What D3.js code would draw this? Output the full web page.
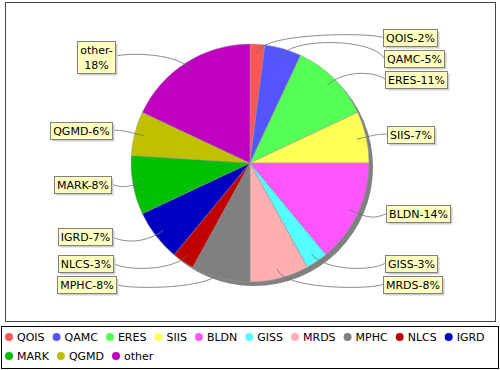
<!DOCTYPE html>
<html><head><meta charset="utf-8">
<script src="https://cdn.jsdelivr.net/npm/d3@7/dist/d3.min.js"></script>
<style>
body{margin:0;background:#fff}
svg{display:block}
text{font-family:"DejaVu Sans",sans-serif;font-size:11px;fill:#000}
</style>
</head><body>
<svg id="chart" width="500" height="370"></svg>
<script>
// ---- data ----
const categories = ["QOIS","QAMC","ERES","SIIS","BLDN","GISS","MRDS","MPHC","NLCS","IGRD","MARK","QGMD","other"];
const values     = [2, 5, 11, 7, 14, 3, 8, 8, 3, 7, 8, 6, 18];
const colors     = ["#FF5555","#5555FF","#55FF55","#FFFF55","#FF55FF","#55FFFF","#FFAFAF","#808080","#C00000","#0000C0","#00C000","#C0C000","#C000C0"];

// ---- layout ----
const cx = 250, cy = 163, r = 119;
const svg = d3.select("#chart");

// plot border
svg.append("rect").attr("x",5.5).attr("y",2.5).attr("width",490).attr("height",319)
  .attr("fill","#fff").attr("stroke","#444").attr("stroke-width",1);

const total = d3.sum(values);
const data = categories.map((c,i)=>({name:c, value:values[i], color:colors[i]}));
const pie = d3.pie().sort(null).value(d=>d.value).startAngle(0).endAngle(2*Math.PI);
const arcs = pie(data);
const arc = d3.arc().innerRadius(0).outerRadius(r);
const pt = (a, rad) => [cx + rad*Math.sin(a), cy - rad*Math.cos(a)];

// shadow
svg.append("circle").attr("cx",cx+4).attr("cy",cy+4).attr("r",r).attr("fill","#808080");

const g = svg.append("g").attr("transform",`translate(${cx},${cy})`);
g.selectAll("path.slice").data(arcs).join("path")
  .attr("class","slice")
  .attr("d",arc)
  .attr("fill",d=>d.data.color)
  .attr("stroke","#999").attr("stroke-width",0.5);

// ---- labels ----
const pct = v => Math.round(v/total*100);
const measure = svg.append("text").attr("x",-100).attr("y",-100);
function tw(s){ measure.text(s); return measure.node().getComputedTextLength(); }

const pad = 2.5, lineH = 15, maxLeftW = 56.8;
const labels = arcs.map(a=>{
  const mid = (a.startAngle + a.endAngle)/2;
  const side = mid < Math.PI ? "right" : "left";
  const full = a.data.name + "-" + pct(a.data.value) + "%";
  let lines = [full];
  if (side === "left" && tw(full) > maxLeftW) lines = [a.data.name + "-", pct(a.data.value) + "%"];
  const w = d3.max(lines, tw) + 2*pad;
  const h = 17 + (lines.length-1)*lineH;
  return {a, mid, side, lines, w, h, y: cy - 2 - 1.04*r*Math.cos(mid)};
});

["right","left"].forEach(side=>{
  const L = labels.filter(l=>l.side===side).sort((p,q)=>p.y-q.y);
  for (let i=1;i<L.length;i++){
    const minY = L[i-1].y + (L[i-1].h + L[i].h)/2 + 4;
    if (L[i].y < minY) L[i].y = minY;
  }
});

labels.forEach(l=>{
  const dy = l.y - cy;
  const f = Math.sqrt(Math.max(0, 1 - (dy/135)*(dy/135)));
  if (l.side === "right"){ l.x0 = cx + 130 + 7*f; l.tx = l.x0; }
  else { l.x1 = cx - 131 - 8*f; l.x0 = l.x1 - l.w; l.tx = l.x1; }
});

// link lines
const links = svg.append("g");
labels.forEach(l=>{
  const s = pt(l.mid, 0.92*r), e = pt(l.mid, 1.1*r);
  const ax = l.side==="right" ? l.tx - 12 : l.tx + 12;
  const p = d3.path();
  p.moveTo(s[0], s[1]);
  p.bezierCurveTo(e[0], e[1], ax, e[1], l.tx, l.y);
  links.append("path").attr("d",p.toString()).attr("fill","none")
    .attr("stroke","#707070").attr("stroke-width",0.8);
});

// label boxes
const lb = svg.append("g");
labels.forEach(l=>{
  const top = l.y - l.h/2;
  lb.append("rect").attr("x",Math.round(l.x0)+2.5).attr("y",Math.round(top)+2.5)
    .attr("width",Math.round(l.w)).attr("height",Math.round(l.h)).attr("fill","#cfcfcf");
  lb.append("rect").attr("x",Math.round(l.x0)+0.5).attr("y",Math.round(top)+0.5)
    .attr("width",Math.round(l.w)).attr("height",Math.round(l.h))
    .attr("fill","#FFFFC0").attr("stroke","#808080").attr("stroke-width",1);
  l.lines.forEach((s,i)=>{
    lb.append("text").attr("x",Math.round(l.x0)+0.5+Math.round(l.w)/2)
      .attr("y",Math.round(top)+9+lineH*i)
      .attr("text-anchor","middle").attr("dominant-baseline","central").text(s);
  });
});

// ---- legend ----
svg.append("rect").attr("x",1.5).attr("y",326.5).attr("width",497).attr("height",42)
  .attr("fill","#fff").attr("stroke","#000").attr("stroke-width",1);
const leg = svg.append("g");
let lx = 5, row = 0;
const rowY = [337, 356];
data.forEach(d=>{
  const w = tw(d.name);
  if (lx + 12 + w > 496){ row++; lx = 5; }
  leg.append("circle").attr("cx",lx+4).attr("cy",rowY[row]).attr("r",4).attr("fill",d.color);
  leg.append("text").attr("x",lx+12).attr("y",rowY[row]).attr("dominant-baseline","central").text(d.name);
  lx += 12 + w + 8;
});
measure.remove();
</script>
</body></html>
